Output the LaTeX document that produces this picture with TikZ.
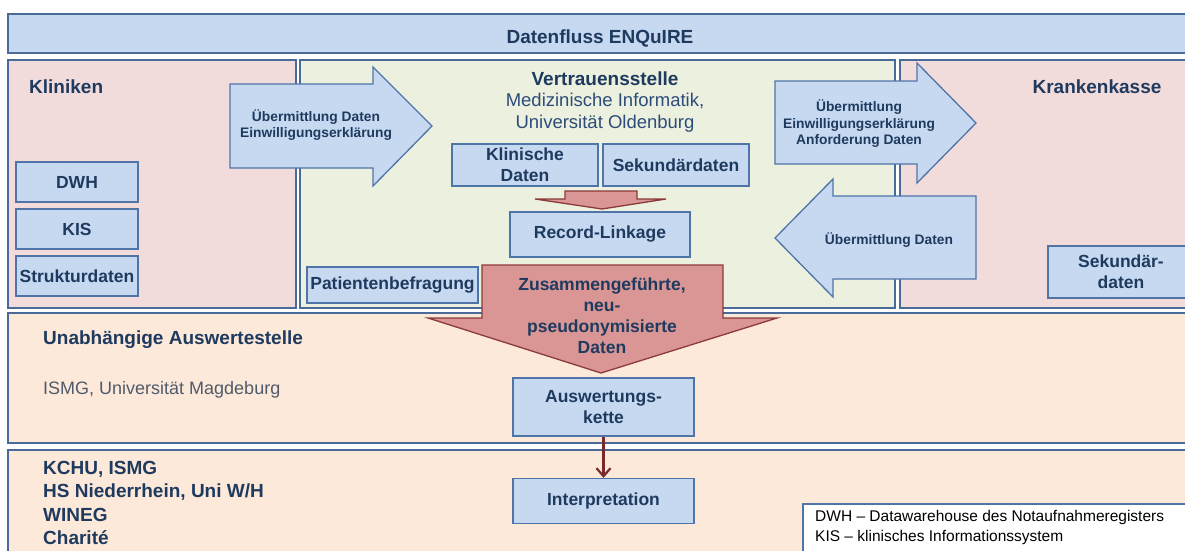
\documentclass[tikz,border=0pt]{standalone}
\usepackage{fontspec}
\setmainfont{Liberation Sans}
\usetikzlibrary{arrows.meta}

\definecolor{rahmenblau}{HTML}{4A6B9A}
\definecolor{kastenrand}{HTML}{4F74A8}
\definecolor{kastenblau}{HTML}{C6D9F1}
\definecolor{rosa}{HTML}{F2DCDB}
\definecolor{hellgruen}{HTML}{EBF1DE}
\definecolor{pfirsich}{HTML}{FDE9D9}
\definecolor{rotfuell}{HTML}{D99694}
\definecolor{rotrand}{HTML}{8C3A38}
\definecolor{dunkelrot}{HTML}{7A2A28}
\definecolor{schrift}{HTML}{1F3A5F}
\definecolor{ortsfarbe}{HTML}{2E4C7A}
\definecolor{grautext}{HTML}{4F5B6B}

\begin{document}
\begin{tikzpicture}[x=1pt,y=-1pt,
    rahmen/.style={draw=rahmenblau,line width=1.4pt},
    kasten/.style={draw=kastenrand,line width=1.3pt,fill=kastenblau,text=schrift,
        font=\fontsize{17.5}{21}\selectfont\bfseries,align=center,inner sep=0pt},
    blockpfeil/.style={draw=kastenrand,line width=1.3pt,fill=kastenblau},
    rotpfeil/.style={draw=rotrand,line width=1.3pt,fill=rotfuell},
    pfeiltext/.style={text=schrift,font=\fontsize{13.8}{16.5}\selectfont\bfseries,align=center,inner sep=0pt},
    rottext/.style={text=schrift,font=\fontsize{17.5}{21}\selectfont\bfseries,align=center,inner sep=0pt},
    kopf/.style={text=schrift,font=\fontsize{19}{23.4}\selectfont\bfseries,inner sep=0pt},
    ortstext/.style={text=ortsfarbe,font=\fontsize{18.5}{22}\selectfont,align=center,inner sep=0pt},
    legtext/.style={text=black,font=\fontsize{15.5}{20}\selectfont,align=left,inner sep=0pt},
    verbindung/.style={draw=dunkelrot,line width=2.2pt,-{Straight Barb[length=8pt,width=14pt]}}
  ]

  \useasboundingbox (0,0) rectangle (1185,550);

  % Rahmen
  \draw[rahmen,fill=kastenblau] (8,14) rectangle (1195,53); % Titel
  \draw[rahmen,fill=rosa] (8,60) rectangle (296,308); % Kliniken
  \draw[rahmen,fill=hellgruen] (300,60) rectangle (895,308); % Vertrauensstelle
  \draw[rahmen,fill=rosa] (900,60) rectangle (1195,308); % Krankenkasse
  \draw[rahmen,fill=pfirsich] (8,313) rectangle (1195,443); % Auswertestelle
  \draw[rahmen,fill=pfirsich] (8,450) rectangle (1195,560); % Partner

  % Ueberschriften
  \node[kopf] (titel) at (600,38) {Datenfluss ENQuIRE};
  \node[kopf,anchor=west] (kliniken) at (29,87) {Kliniken};
  \node[kopf] (vst) at (605,79) {Vertrauensstelle};
  \node[ortstext] (vstort) at (605,113) {Medizinische Informatik,\\Universität Oldenburg};
  \node[kopf] (kasse) at (1097,87) {Krankenkasse};
  \node[kopf,anchor=west] (ausst) at (43,340) {Unabhängige Auswertestelle};
  \node[ortstext,text=grautext,font=\fontsize{18}{22}\selectfont,anchor=west] (ausort) at (43,390) {ISMG, Universität Magdeburg};
  \node[kopf,anchor=west,align=left] (partner) at (43,503) {KCHU, ISMG\\HS Niederrhein, Uni W/H\\WINEG\\Charité};

  % Kaesten
  \foreach \name/\y/\txt in {dwh/182/DWH,kis/229/KIS,struktur/276/Strukturdaten}
    \node[kasten,minimum width=122,minimum height=40] (\name) at (77,\y) {\txt};
  \node[kasten,minimum width=146,minimum height=42] (klindat) at (525,165) {Klinische\\Daten};
  \node[kasten,minimum width=146,minimum height=42] (sekdat) at (676,165) {Sekundärdaten};
  \node[kasten,minimum width=180,minimum height=45] (linkage) at (600,234.5) {Record-Linkage};
  \node[kasten,minimum width=171,minimum height=36] (befragung) at (392.5,285) {Patientenbefragung};
  \node[kasten,minimum width=146,minimum height=52] (sekkasse) at (1121,272) {Sekundär-\\daten};
  \node[kasten,minimum width=181,minimum height=58] (ausw) at (603.5,407) {Auswertungs-\\kette};
  \node[kasten,minimum width=181,minimum height=45] (interp) at (603.5,501) {Interpretation};

  % Blockpfeile
  \draw[blockpfeil] (230,84) -- (373,84) -- (373,67) -- (432,126) -- (373,186) -- (373,168) -- (230,168) -- cycle; % Kliniken -> VST
  \draw[blockpfeil] (775,81) -- (917,81) -- (917,63) -- (976,123) -- (917,183) -- (917,164) -- (775,164) -- cycle; % VST -> Kasse
  \draw[blockpfeil] (976,196) -- (833,196) -- (833,179) -- (775,238) -- (833,297) -- (833,279) -- (976,279) -- cycle; % Kasse -> VST
  \draw[rotpfeil] (565,191) -- (637,191) -- (637,199) -- (666,199) -- (602,209) -- (535,199) -- (565,199) -- cycle; % Daten -> Linkage
  \draw[rotpfeil] (482,265) -- (723,265) -- (723,318) -- (777,318) -- (601,373) -- (428,318) -- (482,318) -- cycle; % Linkage -> Auswertung

  \node[pfeiltext] (txtklin) at (316,125) {Übermittlung Daten\\Einwilligungserklärung};
  \node[pfeiltext] (txtkasse) at (859,124) {Übermittlung\\Einwilligungserklärung\\Anforderung Daten};
  \node[pfeiltext] (txtzurueck) at (889,240) {Übermittlung Daten};
  \node[rottext] (txtdaten) at (602,316) {Zusammengeführte,\\neu-\\pseudonymisierte\\Daten};

  \draw[verbindung] (ausw) -- (interp);

  % Legende
  \draw[draw=kastenrand,line width=1.2pt,fill=white] (803,504) rectangle (1195,560);
  \node[legtext,anchor=west] (legende) at (815,527) {DWH – Datawarehouse des Notaufnahmeregisters\\KIS – klinisches Informationssystem};

\end{tikzpicture}
\end{document}
